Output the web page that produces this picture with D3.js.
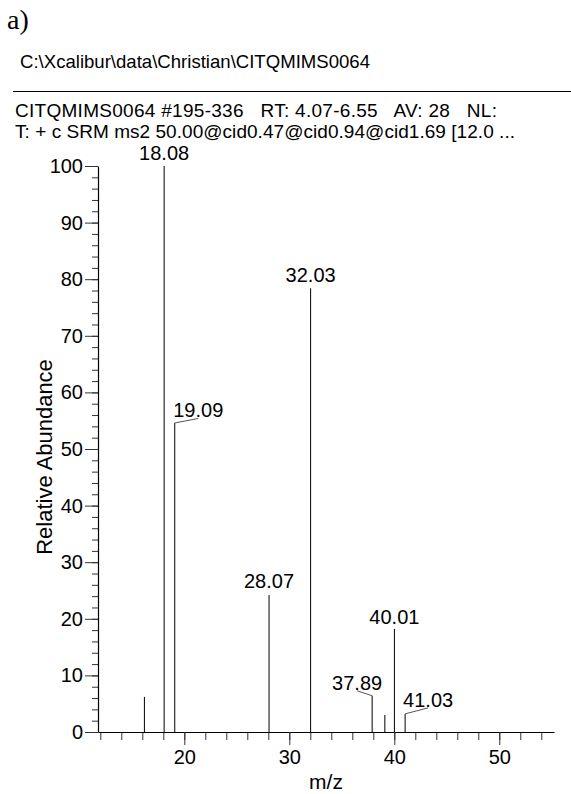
<!DOCTYPE html>
<html><head><meta charset="utf-8">
<script src="https://cdn.jsdelivr.net/npm/d3@7"></script>
<style>
html,body{margin:0;padding:0;background:#fff;}
svg{display:block;}
text{font-family:"Liberation Sans",Arial,sans-serif;fill:#000;}
</style></head>
<body>
<script>
// ---- data ----
const peakMz = [16.2, 18.08, 19.09, 28.07, 32.03, 37.89, 39.1, 40.01, 41.03];
const peakIntensity = [6.2, 100, 54.6, 24.2, 78.4, 6.4, 3.0, 18.2, 3.2];
const peakLabels = ["", "18.08", "19.09", "28.07", "32.03", "37.89", "", "40.01", "41.03"];
const xMajorTicks = [20, 30, 40, 50];
const yMajorTicks = [0, 10, 20, 30, 40, 50, 60, 70, 80, 90, 100];
const panelLabel = "a)";
const filePath = "C:\\Xcalibur\\data\\Christian\\CITQMIMS0064";
const headerLines = [
  "CITQMIMS0064 #195-336   RT: 4.07-6.55   AV: 28   NL:",
  "T: + c SRM ms2 50.00@cid0.47@cid0.94@cid1.69 [12.0 ..."
];
const xTitle = "m/z";
const yTitle = "Relative Abundance";
// label leader offsets (style): [dx, dy] of label baseline-center relative to peak top
const labelOffsets = [[0,-6],[0,-6],[23.5,-5.5],[0,-7],[0,-6],[-15,-6],[0,-6],[0,-5],[23,-7]];
const headerWidths = [482, 500];

const W = 571, H = 794;
const svg = d3.select("body").append("svg").attr("width", W).attr("height", H);

const x = d3.scaleLinear().domain([11.78, 55.21]).range([98, 554]);
const y = d3.scaleLinear().domain([0, 100]).range([732, 166]);

// header
svg.append("text").attr("x", 7).attr("y", 29)
  .style("font-family", "'Liberation Serif','Times New Roman',serif")
  .style("font-size", "28px").text(panelLabel);
svg.append("text").attr("x", 20).attr("y", 68).style("font-size", "19px")
  .attr("textLength", 350).attr("lengthAdjust", "spacingAndGlyphs").text(filePath);
svg.append("line").attr("x1", 13).attr("x2", W).attr("y1", 91.5).attr("y2", 91.5)
  .attr("stroke", "#000").attr("stroke-width", 1);
headerLines.forEach((t, i) => {
  svg.append("text").attr("x", 15).attr("y", 117 + i * 20.5)
    .attr("xml:space", "preserve").style("white-space", "pre")
    .attr("textLength", headerWidths[i]).attr("lengthAdjust", "spacing")
    .style("font-size", "19px").text(t);
});

// axes
const xMinor = d3.range(12, 55, 2);
const yMinor = d3.range(0, 101, 2);
const g = svg.append("g");

const xAxisMinor = d3.axisBottom(x).tickValues(xMinor).tickSize(8).tickFormat("");
const xAxisMajor = d3.axisBottom(x).tickValues(xMajorTicks).tickSize(13).tickPadding(5).tickFormat(d3.format("d"));
const yAxisMinor = d3.axisLeft(y).tickValues(yMinor).tickSize(6).tickFormat("");
const yAxisMajor = d3.axisLeft(y).tickValues(yMajorTicks).tickSize(13).tickPadding(2).tickFormat(d3.format("d"));

function styleAxis(sel) {
  sel.selectAll("path").attr("stroke", "#000").attr("stroke-width", 1.2);
  sel.selectAll("line").attr("stroke", "#333").attr("stroke-width", 1);
  sel.selectAll("text").style("font-size", "20px").style("font-family", "'Liberation Sans',Arial,sans-serif").attr("fill", "#000");
}
g.append("g").attr("transform", "translate(0,732)").call(xAxisMinor).call(s => s.select(".domain").remove()).call(styleAxis);
g.append("g").attr("transform", "translate(0,732)").call(xAxisMajor.tickSizeOuter(0)).call(styleAxis);
g.append("g").attr("transform", "translate(98,0)").call(yAxisMinor).call(s => s.select(".domain").remove()).call(styleAxis);
g.append("g").attr("transform", "translate(98,0)").call(yAxisMajor.tickSizeOuter(0)).call(styleAxis);

// peaks
const peaks = peakMz.map((m, i) => ({ m, v: peakIntensity[i], label: peakLabels[i], off: labelOffsets[i] }));
svg.append("g").selectAll("line").data(peaks).join("line")
  .attr("x1", d => x(d.m)).attr("x2", d => x(d.m))
  .attr("y1", y(0)).attr("y2", d => y(d.v))
  .attr("stroke", "#000").attr("stroke-width", 1);

// leaders
svg.append("g").selectAll("line").data(peaks.filter(d => d.label && d.off[0] !== 0)).join("line")
  .attr("x1", d => x(d.m)).attr("y1", d => y(d.v))
  .attr("x2", d => x(d.m) + d.off[0]).attr("y2", d => y(d.v) + d.off[1] + 1)
  .attr("stroke", "#555").attr("stroke-width", 1);

svg.append("g").selectAll("text").data(peaks.filter(d => d.label)).join("text")
  .attr("x", d => x(d.m) + d.off[0]).attr("y", d => y(d.v) + d.off[1])
  .attr("text-anchor", "middle").style("font-size", "20px").text(d => d.label);

// axis titles
svg.append("text").attr("x", 326).attr("y", 789).attr("text-anchor", "middle")
  .style("font-size", "21px").text(xTitle);
svg.append("text").attr("transform", "translate(52,457) rotate(-90)")
  .attr("text-anchor", "middle").style("font-size", "22px").text(yTitle);
</script>
</body></html>
